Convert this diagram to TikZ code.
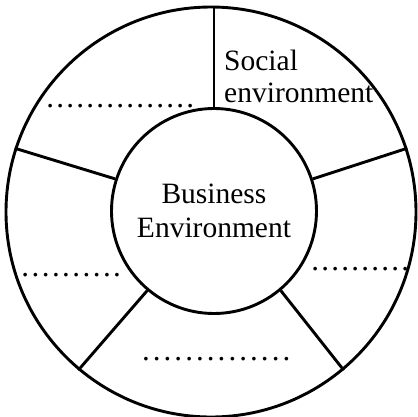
\documentclass[tikz,border=0pt]{standalone}
\usepackage{fontspec}
\setmainfont{Liberation Serif}
\newcommand{\dotrow}[2]{\hbox to #1{\xleaders\hbox to #2{\hss.\hss}\hfill}}
\begin{document}
\begin{tikzpicture}[x=1pt,y=-1pt,
  ring/.style={circle,draw,line width=2.9pt,inner sep=0pt},
  spoke/.style={line width=2.9pt},
  lbl/.style={font=\fontsize{29.5}{33}\selectfont,inner sep=0pt},
  dotlbl/.style={font=\fontsize{31}{33}\selectfont,inner sep=0pt,anchor=base west}]
\useasboundingbox (0,0) rectangle (418,416);
\node[ring,minimum size=410pt] (out) at (211,212) {};
\node[ring,minimum size=205pt,lbl,align=center] (in) at (214,211) {Business\\[1pt]Environment};
\draw[spoke] (in.90) -- (in.90 |- out.north);
\draw[spoke] (in.18) -- (out.18);
\draw[spoke] (in.162) -- (out.162);
\draw[spoke] (in.-50) -- (out.-50);
\draw[spoke] (in.-130) -- (out.-130);
\node[lbl,align=left,anchor=north west] (soc) at (224,50) {Social\\[-1pt]environment};
\node[dotlbl] (d1) at (45,107) {\dotrow{150pt}{10pt}};
\node[dotlbl] (d2) at (20,276) {\dotrow{102pt}{10.2pt}};
\node[dotlbl] (d3) at (310,270) {\dotrow{100pt}{10pt}};
\node[dotlbl] (d4) at (140,360) {\dotrow{152pt}{10.14pt}};
\end{tikzpicture}
\end{document}
